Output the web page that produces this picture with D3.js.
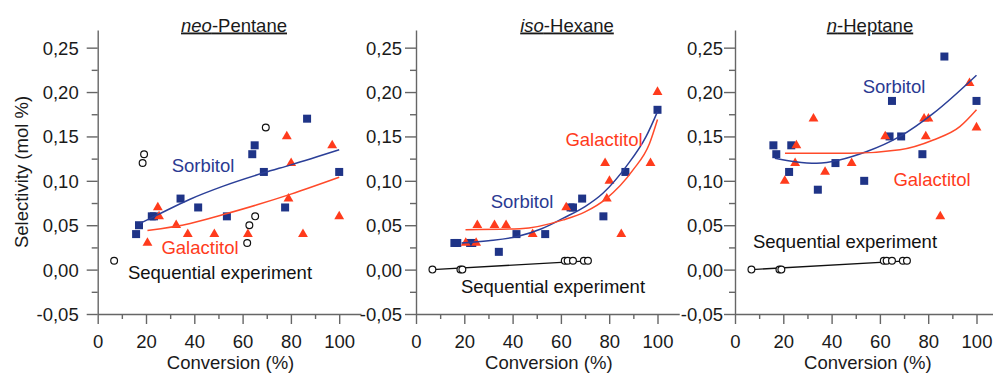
<!DOCTYPE html>
<html>
<head>
<meta charset="utf-8">
<script src="https://cdn.jsdelivr.net/npm/d3@7"></script>
<style>
  body { margin: 0; background: #fff; }
  svg { display: block; }
</style>
</head>
<body>
<div id="chart"></div>
<script>
// conversion (%) of each run, same for all three alkanes
var convSorbitol = [15.9, 17.1, 22.4, 23.3, 34.3, 41.6, 53.5, 64.0, 65.0, 68.8, 77.6, 86.7, 100];
var convGalactitol = [20.6, 24.9, 25.4, 32.5, 37.3, 48.3, 62.2, 78.3, 79.0, 80.1, 85.0, 97.1, 100];

// selectivity (mol %)
var sorbNeo = [0.04, 0.05, 0.06, 0.06, 0.08, 0.07, 0.06, 0.13, 0.14, 0.11, 0.07, 0.17, 0.11];
var sorbIso = [0.03, 0.03, 0.03, 0.03, 0.02, 0.04, 0.04, 0.07, 0.07, 0.08, 0.06, 0.11, 0.18];
var sorbHep = [0.14, 0.13, 0.11, 0.14, 0.09, 0.12, 0.10, 0.15, 0.19, 0.15, 0.13, 0.24, 0.19];

var galNeo = [0.03, 0.07, 0.06, 0.05, 0.04, 0.04, 0.04, 0.15, 0.08, 0.12, 0.04, 0.14, 0.06];
var galIso = [0.03, 0.03, 0.05, 0.05, 0.05, 0.04, 0.07, 0.12, 0.08, 0.10, 0.04, 0.12, 0.20];
var galHep = [0.10, 0.12, 0.14, 0.17, 0.11, 0.12, 0.15, 0.17, 0.15, 0.17, 0.06, 0.21, 0.16];

// sequential experiment
var convSeqNeo = [6.8, 18.6, 19.2, 61.9, 62.8, 65.2, 69.6];
var seqNeo = [0.01, 0.12, 0.13, 0.03, 0.05, 0.06, 0.16];
var convSeq = [6.8, 18.4, 19.2, 61.6, 62.8, 65.0, 69.5, 71.2];
var seqIso = [0, 0, 0, 0.01, 0.01, 0.01, 0.01, 0.01];
var seqHep = [0, 0, 0, 0.01, 0.01, 0.01, 0.01, 0.01];

// trend lines
var fitSorbNeoX = [17.5, 25, 38, 52, 68.8, 80, 100];
var fitSorbNeoY = [0.052, 0.062, 0.079, 0.094, 0.109, 0.118, 0.135];
var fitGalNeoX = [20.6, 38.3, 52, 66, 80, 100];
var fitGalNeoY = [0.044, 0.052, 0.062, 0.073, 0.085, 0.104];

var fitSorbIsoX = [18.9, 30, 41.6, 52, 61, 70, 77.4, 87, 95.3, 100];
var fitSorbIsoY = [0.030, 0.0325, 0.037, 0.046, 0.058, 0.071, 0.086, 0.116, 0.150, 0.178];
var fitGalIsoX = [20.5, 43, 61, 70, 78.8, 89.8, 96.7, 100];
var fitGalIsoY = [0.045, 0.046, 0.056, 0.065, 0.080, 0.112, 0.142, 0.169];

var fitSorbHepX = [16.5, 25, 33.8, 54.6, 68.3, 82.1, 100];
var fitSorbHepY = [0.1255, 0.1215, 0.1198, 0.133, 0.150, 0.176, 0.219];
var fitGalHepX = [20.7, 47.6, 68.3, 82.1, 93.1, 100];
var fitGalHepY = [0.131, 0.131, 0.135, 0.146, 0.161, 0.180];

var fitSeqX = [6.8, 71.2];
var fitSeqY = [0.0, 0.0098];

var yTicks = [-0.05, 0, 0.05, 0.10, 0.15, 0.20, 0.25];
var yMinor = [-0.025, 0.025, 0.075, 0.125, 0.175, 0.225];
var xTicks = [0, 20, 40, 60, 80, 100];
var xMinor = [10, 30, 50, 70, 90];

var blue = "#1f3487", red = "#ff3b1c";
var font = "'Liberation Sans', Arial, sans-serif";
var fs = "18.5px";

var width = 993, height = 375;
var svg = d3.select("#chart").append("svg")
    .attr("width", width)
    .attr("height", height);

var y = d3.scaleLinear().domain([-0.05, 0.27]).range([314, 29.9]);

function zip(a, b) { return a.map(function (d, i) { return [d, b[i]]; }); }

var panels = [
  { x0: 97.7, pre: "neo", name: "-Pentane", titleX: 234, labOff: 8,
    sorb: sorbNeo, gal: galNeo, seqX: convSeqNeo, seq: seqNeo, seqLine: false,
    fitS: zip(fitSorbNeoX, fitSorbNeoY), fitG: zip(fitGalNeoX, fitGalNeoY),
    labS: [203, 166], labG: [200, 248], labQ: [220, 273] },
  { x0: 416, pre: "iso", name: "-Hexane", titleX: 567, labOff: 3,
    sorb: sorbIso, gal: galIso, seqX: convSeq, seq: seqIso, seqLine: true,
    fitS: zip(fitSorbIsoX, fitSorbIsoY), fitG: zip(fitGalIsoX, fitGalIsoY),
    labS: [522, 202], labG: [604, 140], labQ: [553, 287] },
  { x0: 735, pre: "n", name: "-Heptane", titleX: 870, labOff: 1,
    sorb: sorbHep, gal: galHep, seqX: convSeq, seq: seqHep, seqLine: true,
    fitS: zip(fitSorbHepX, fitSorbHepY), fitG: zip(fitGalHepX, fitGalHepY),
    labS: [894, 87], labG: [932, 180], labQ: [845, 242] }
];

panels.forEach(function (p) {
  var x = d3.scaleLinear().domain([0, 109]).range([p.x0, p.x0 + 109 * 2.415]);
  var g = svg.append("g");

  // y axis
  var ya = g.append("g").attr("transform", "translate(" + p.x0 + ",0)")
      .call(d3.axisLeft(y).tickValues(yTicks).tickSize(11).tickSizeOuter(0)
        .tickFormat(function (d) { return d.toFixed(2).replace(".", ","); }));
  g.append("g").attr("transform", "translate(" + p.x0 + ",0)")
      .call(d3.axisLeft(y).tickValues(yMinor).tickSize(6).tickFormat(""))
      .select(".domain").remove();
  ya.selectAll("text").attr("x", -11 - p.labOff).attr("dy", "0.35em");

  // x axis
  var xa = g.append("g").attr("transform", "translate(0," + y(-0.05) + ")")
      .call(d3.axisBottom(x).tickValues(xTicks).tickSize(10).tickSizeOuter(0));
  g.append("g").attr("transform", "translate(0," + y(-0.05) + ")")
      .call(d3.axisBottom(x).tickValues(xMinor).tickSize(5).tickFormat(""))
      .select(".domain").remove();
  xa.selectAll("text").attr("y", 0).attr("dy", 0).attr("transform", "translate(0,34)");

  g.selectAll(".domain, .tick line").attr("stroke", "#666").attr("stroke-width", 1.4);
  g.selectAll(".tick text").attr("font-family", font).attr("font-size", fs).attr("fill", "#1a1a1a");

  // title
  var t = svg.append("text")
      .attr("x", p.titleX).attr("y", 31.5)
      .attr("text-anchor", "middle")
      .attr("font-family", font).attr("font-size", fs).attr("fill", "#1a1a1a")
      .attr("text-decoration", "underline");
  t.append("tspan").attr("font-style", "italic").text(p.pre);
  t.append("tspan").text(p.name);

  // x label
  svg.append("text")
      .attr("x", x(55)).attr("y", 369)
      .attr("text-anchor", "middle")
      .attr("font-family", font).attr("font-size", fs).attr("fill", "#1a1a1a")
      .text("Conversion (%)");

  // markers
  g.selectAll(".sq").data(zip(convSorbitol, p.sorb)).enter().append("rect")
      .attr("x", function (d) { return x(d[0]) - 4; })
      .attr("y", function (d) { return y(d[1]) - 4; })
      .attr("width", 8).attr("height", 8)
      .attr("fill", blue);

  g.selectAll(".tri").data(zip(convGalactitol, p.gal)).enter().append("path")
      .attr("d", d3.symbol(d3.symbolTriangle, 42))
      .attr("transform", function (d) { return "translate(" + x(d[0]) + "," + y(d[1]) + ")"; })
      .attr("fill", red);

  var line = d3.line()
      .x(function (d) { return x(d[0]); })
      .y(function (d) { return y(d[1]); })
      .curve(d3.curveMonotoneX);

  g.append("path").attr("d", line(p.fitS)).attr("fill", "none")
      .attr("stroke", "#2b3f98").attr("stroke-width", 1.5);
  g.append("path").attr("d", line(p.fitG)).attr("fill", "none")
      .attr("stroke", "#ff4a2a").attr("stroke-width", 1.5);

  if (p.seqLine) {
    g.append("path").attr("d", d3.line()
        .x(function (d) { return x(d[0]); })
        .y(function (d) { return y(d[1]); })(zip(fitSeqX, fitSeqY)))
      .attr("fill", "none").attr("stroke", "#111").attr("stroke-width", 1.4);
  }

  g.selectAll(".ci").data(zip(p.seqX, p.seq)).enter().append("circle")
      .attr("cx", function (d) { return x(d[0]); })
      .attr("cy", function (d) { return y(d[1]); })
      .attr("r", 3.4)
      .attr("fill", "#fff").attr("stroke", "#111").attr("stroke-width", 1.2);

  // series labels
  var labs = [[p.labS, "Sorbitol", "#2a3a92"], [p.labG, "Galactitol", "#ff3b1c"], [p.labQ, "Sequential experiment", "#111"]];
  labs.forEach(function (l) {
    svg.append("text")
        .attr("x", l[0][0]).attr("y", l[0][1])
        .attr("dy", "0.35em")
        .attr("text-anchor", "middle")
        .attr("font-family", font).attr("font-size", fs).attr("fill", l[2])
        .text(l[1]);
  });
});

// y label
svg.append("text")
    .attr("transform", "translate(22,172) rotate(-90)")
    .attr("text-anchor", "middle")
    .attr("dy", "0.35em")
    .attr("font-family", font).attr("font-size", fs).attr("fill", "#1a1a1a")
    .text("Selectivity (mol %)");
</script>
</body>
</html>
